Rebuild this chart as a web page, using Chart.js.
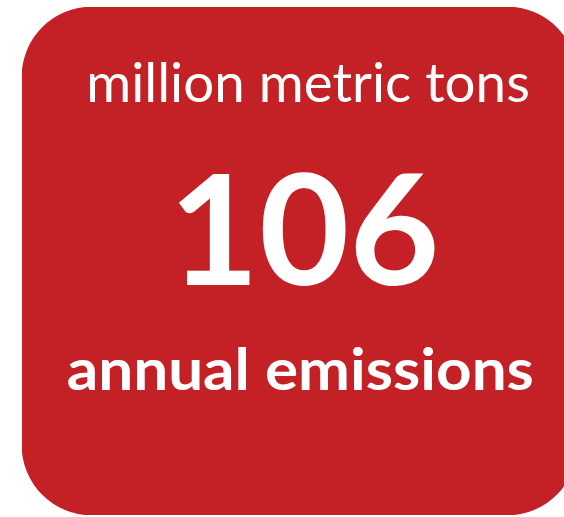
<!DOCTYPE html>
<html>
<head>
<meta charset="utf-8">
<script src="https://cdn.jsdelivr.net/npm/chart.js@4/dist/chart.umd.min.js"></script>
<style>
  html, body { margin: 0; padding: 0; background: #ffffff; overflow: hidden; }
  #wrap { width: 600px; height: 517px; }
</style>
</head>
<body>
<div id="wrap"><canvas id="card" width="600" height="517"></canvas></div>
<script>
// data
const categories = ["annual emissions"];
const values = [106];
const units = ["million metric tons"];

const CARD_RED = "#C42127";

// draws text stretched so its ink fits a box (left, right, top, baseline)
function drawFit(ctx, text, font, box) {
  ctx.save();
  ctx.font = font;
  ctx.textAlign = "left";
  ctx.textBaseline = "alphabetic";
  const m = ctx.measureText(text);
  const inkW = m.actualBoundingBoxLeft + m.actualBoundingBoxRight;
  const inkH = m.actualBoundingBoxAscent;
  ctx.translate(box.left, box.baseline);
  ctx.scale((box.right - box.left) / inkW, (box.baseline - box.top) / inkH);
  ctx.fillText(text, m.actualBoundingBoxLeft, 0);
  ctx.restore();
}

const cardText = {
  id: "cardText",
  afterDatasetsDraw(chart) {
    const { ctx } = chart;
    const bar = chart.getDatasetMeta(0).data[0];
    const ds = chart.data.datasets[0];
    ctx.fillStyle = "#ffffff";
    drawFit(ctx, units[0], "400 100px Lato", { left: 90, right: 528, top: 62, baseline: 102 });
    drawFit(ctx, String(ds.data[0]), "700 100px Lato", { left: 178, right: 435, top: 173, baseline: 285 });
    drawFit(ctx, chart.data.labels[0], "700 100px Lato", { left: 68, right: 532, top: 348, baseline: 390 });
  }
};

new Chart(document.getElementById("card"), {
  type: "bar",
  data: {
    labels: categories,
    datasets: [{
      data: values,
      backgroundColor: CARD_RED,
      borderWidth: 0,
      borderRadius: 70,
      borderSkipped: false,
      barPercentage: 1,
      categoryPercentage: 1
    }]
  },
  options: {
    responsive: false,
    animation: false,
    devicePixelRatio: 1,
    layout: { padding: { left: 22, right: 23, top: 7, bottom: 2 } },
    plugins: { legend: { display: false }, tooltip: { enabled: false } },
    scales: {
      x: { display: false },
      y: { display: false, min: 0, max: values[0] }
    }
  },
  plugins: [cardText]
});
</script>
</body>
</html>
